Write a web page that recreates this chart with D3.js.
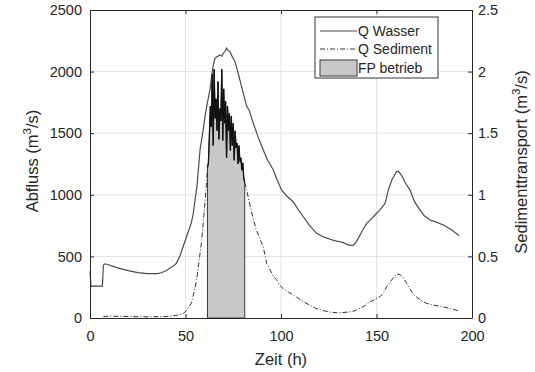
<!DOCTYPE html>
<html>
<head>
<meta charset="utf-8">
<script src="https://cdn.jsdelivr.net/npm/d3@7"></script>
<style>
  body { margin: 0; background: #fff; }
  text { font-family: "Liberation Sans", Arial, sans-serif; fill: #262626; }
</style>
</head>
<body>
<div id="chart"></div>
<script>
// Abfluss (Q Wasser), m3/s
const wasserT = [0, 0.5, 2, 4, 6.5, 7, 8, 10, 15, 20, 25, 30, 35, 37, 40, 43, 45, 47, 49, 51, 53, 54, 55, 56,
  57.6, 59, 60.2, 61.5, 62.8, 64, 64.6, 65.4, 66.5, 68, 69, 69.8, 70.7, 71.5, 72.3, 73.3, 74.5, 75.9, 77.6,
  79, 80.3, 82, 83.5, 85.5, 88, 90.7, 93, 96, 98, 100.3, 103, 106.4, 109, 111.7, 115, 118.7, 122, 125.7,
  128, 130.9, 133, 134.4, 136, 137.9, 139.5, 141.4, 143, 144.9, 147, 150.1, 152, 154.5, 156.2, 158, 160.5,
  161.5, 163, 165, 167.5, 170, 172.8, 175, 178, 181, 185, 189.4, 192.8, 193.5];
const wasserQ = [380, 255, 260, 258, 258, 430, 440, 430, 405, 385, 368, 360, 360, 365, 385, 415, 440, 500, 590,
  680, 770, 840, 960, 1070, 1364, 1500, 1634, 1750, 1851, 2000, 2054, 2108, 2120, 2135, 2125, 2149, 2165,
  2189, 2170, 2161, 2120, 2081, 1986, 1900, 1824, 1720, 1680, 1580, 1470, 1364, 1280, 1201, 1120, 1040,
  990, 944, 880, 822, 750, 687, 660, 639, 628, 619, 610, 598, 590, 592, 620, 674, 720, 768, 800, 850, 880,
  931, 1040, 1120, 1188, 1190, 1160, 1100, 1040, 940, 877, 830, 795, 780, 755, 714, 674, 670];

// Sedimenttransport (Q Sediment), m3/s
const sedT = [7, 10, 20, 30, 40, 45, 49, 51, 53, 55, 56, 57, 58.5, 60, 61, 61.5,
  62, 62.5, 63, 63.5, 64, 64.5, 65, 65.5, 66, 66.5, 67, 67.5, 68, 68.5, 69, 69.5, 70, 70.5, 71, 71.5,
  72, 72.5, 73, 73.5, 74, 74.5, 75, 75.5, 76, 76.5, 77, 77.5, 78, 78.5, 79, 79.5, 80, 80.5, 81,
  82, 83, 84, 85.5, 87, 89, 90.7, 92.5, 94, 96, 97.7, 99, 101, 104, 108, 112, 115, 118, 122, 126, 129,
  133, 136, 139, 141.4, 144, 146.6, 149, 151.8, 153.5, 155.3, 157, 159, 161, 162.5, 164, 165.5, 167,
  169, 171, 173.5, 176, 180, 185, 189, 193];
const sedQ = [0.012, 0.015, 0.012, 0.01, 0.012, 0.02, 0.038, 0.07, 0.12, 0.24, 0.33, 0.45, 0.63, 0.9, 1.1, 1.22,
  1.26, 1.48, 1.72, 1.55, 1.98, 1.40, 2.02, 1.62, 1.78, 1.52, 1.92, 1.45, 1.70, 1.60, 2.02, 1.44, 1.86, 1.58,
  1.76, 1.30, 1.72, 1.52, 1.66, 1.36, 1.64, 1.40, 1.58, 1.28, 1.52, 1.38, 1.42, 1.25, 1.40, 1.27, 1.30, 1.20,
  1.26, 1.14, 1.10,
  1.04, 0.97, 0.90, 0.80, 0.72, 0.64, 0.58, 0.44, 0.40, 0.34, 0.31, 0.27, 0.24, 0.21, 0.17, 0.13, 0.105, 0.08,
  0.06, 0.048, 0.043, 0.045, 0.05, 0.06, 0.078, 0.10, 0.13, 0.15, 0.173, 0.2, 0.254, 0.29, 0.33, 0.357, 0.35,
  0.33, 0.29, 0.25, 0.2, 0.17, 0.14, 0.12, 0.105, 0.09, 0.075, 0.058];

// FP betrieb (operating window), h
const fpStart = 61.5;
const fpEnd = 81;

const xTicks = [0, 50, 100, 150, 200];
const yLeftTicks = [0, 500, 1000, 1500, 2000, 2500];
const yRightTicks = [0, 0.5, 1, 1.5, 2, 2.5];
const legendLabels = ['Q Wasser', 'Q Sediment', 'FP betrieb'];

const width = 535;
const height = 372;
const margin = { top: 10, right: 63, bottom: 54, left: 90 };
const plotW = width - margin.left - margin.right;
const plotH = height - margin.top - margin.bottom;

const svg = d3.select('#chart').append('svg')
  .attr('width', width)
  .attr('height', height);

const x = d3.scaleLinear().domain([0, 200]).range([margin.left, margin.left + plotW]);
const yL = d3.scaleLinear().domain([0, 2500]).range([margin.top + plotH, margin.top]);
const yR = d3.scaleLinear().domain([0, 2.5]).range([margin.top + plotH, margin.top]);

// Grid
const grid = svg.append('g').attr('stroke', '#e3e3e3').attr('stroke-width', 1);
xTicks.slice(1, -1).forEach(t => {
  grid.append('line').attr('x1', x(t)).attr('x2', x(t))
    .attr('y1', margin.top).attr('y2', margin.top + plotH);
});
yLeftTicks.slice(1, -1).forEach(t => {
  grid.append('line').attr('x1', margin.left).attr('x2', margin.left + plotW)
    .attr('y1', yL(t)).attr('y2', yL(t));
});

// FP betrieb area under the sediment curve
const fpData = sedT.map((t, i) => ({ t, v: sedQ[i] })).filter(d => d.t >= fpStart && d.t <= fpEnd);
const fpArea = d3.area().x(d => x(d.t)).y0(yR(0)).y1(d => yR(d.v));
svg.append('path')
  .datum(fpData)
  .attr('d', fpArea)
  .attr('fill', '#c8c8c8')
  .attr('stroke', '#3a3a3a')
  .attr('stroke-width', 1);

// Q Wasser line
const wasser = wasserT.map((t, i) => ({ t, v: wasserQ[i] }));
svg.append('path')
  .datum(wasser)
  .attr('d', d3.line().x(d => x(d.t)).y(d => yL(d.v)))
  .attr('fill', 'none')
  .attr('stroke', '#4a4a4a')
  .attr('stroke-width', 1.2);

// Q Sediment line (dash-dot outside, solid spikes inside the FP window)
const sed = sedT.map((t, i) => ({ t, v: sedQ[i] }));
const sedLine = d3.line().x(d => x(d.t)).y(d => yR(d.v));
svg.append('path')
  .datum(sed.filter(d => d.t <= fpStart))
  .attr('d', sedLine)
  .attr('fill', 'none')
  .attr('stroke', '#333')
  .attr('stroke-width', 1)
  .attr('stroke-dasharray', '5,2,1,2');
svg.append('path')
  .datum(sed.filter(d => d.t >= fpEnd))
  .attr('d', sedLine)
  .attr('fill', 'none')
  .attr('stroke', '#333')
  .attr('stroke-width', 1)
  .attr('stroke-dasharray', '5,2,1,2');
svg.append('path')
  .datum(fpData)
  .attr('d', sedLine)
  .attr('fill', 'none')
  .attr('stroke', '#111')
  .attr('stroke-width', 1.3);

// Axes
const axisColor = '#262626';
const fontSize = '14.5px';

const xAxis = svg.append('g')
  .attr('transform', `translate(0,${margin.top + plotH})`)
  .call(d3.axisBottom(x).tickValues(xTicks).tickSizeInner(-4).tickSizeOuter(0).tickPadding(13));
const xAxisTop = svg.append('g')
  .attr('transform', `translate(0,${margin.top})`)
  .call(d3.axisTop(x).tickValues(xTicks).tickSizeInner(-4).tickSizeOuter(0).tickFormat(''));
const yAxisL = svg.append('g')
  .attr('transform', `translate(${margin.left},0)`)
  .call(d3.axisLeft(yL).tickValues(yLeftTicks).tickFormat(d3.format('d')).tickSizeInner(-4).tickSizeOuter(0).tickPadding(8));
const yAxisR = svg.append('g')
  .attr('transform', `translate(${margin.left + plotW},0)`)
  .call(d3.axisRight(yR).tickValues(yRightTicks).tickFormat(d3.format('')).tickSizeInner(-4).tickSizeOuter(0).tickPadding(6));

[xAxis, xAxisTop, yAxisL, yAxisR].forEach(g => {
  g.select('.domain').attr('stroke', axisColor);
  g.selectAll('.tick line').attr('stroke', axisColor);
  g.selectAll('.tick text')
    .attr('fill', axisColor)
    .style('font-size', fontSize)
    .style('font-family', '"Liberation Sans", Arial, sans-serif');
});

// Axis labels
const labelSize = '16.5px';
svg.append('text')
  .attr('x', x(100)).attr('y', 365)
  .attr('text-anchor', 'middle')
  .style('font-size', labelSize)
  .text('Zeit (h)');

const leftLabel = svg.append('text')
  .attr('transform', `translate(38,161) rotate(-90)`)
  .attr('text-anchor', 'middle')
  .style('font-size', labelSize);
leftLabel.append('tspan').text('Abfluss (m');
leftLabel.append('tspan').attr('dy', -7).style('font-size', '11.5px').text('3');
leftLabel.append('tspan').attr('dy', 7).text('/s)');

const rightLabel = svg.append('text')
  .attr('transform', `translate(527,162) rotate(-90)`)
  .attr('text-anchor', 'middle')
  .style('font-size', labelSize);
rightLabel.append('tspan').text('Sedimenttransport (m');
rightLabel.append('tspan').attr('dy', -7).style('font-size', '11.5px').text('3');
rightLabel.append('tspan').attr('dy', 7).text('/s)');

// Legend
const legend = svg.append('g').attr('transform', 'translate(315,17)');
legend.append('rect')
  .attr('width', 123).attr('height', 61)
  .attr('fill', '#fff')
  .attr('stroke', '#333')
  .attr('stroke-width', 1);
const rowY = [14, 32, 51];
legend.append('line').attr('x1', 5).attr('x2', 42).attr('y1', rowY[0]).attr('y2', rowY[0])
  .attr('stroke', '#4a4a4a').attr('stroke-width', 1.2);
legend.append('line').attr('x1', 5).attr('x2', 42).attr('y1', rowY[1]).attr('y2', rowY[1])
  .attr('stroke', '#333').attr('stroke-width', 1).attr('stroke-dasharray', '5,2,1,2');
legend.append('rect').attr('x', 5).attr('y', rowY[2] - 8).attr('width', 37).attr('height', 16)
  .attr('fill', '#c8c8c8').attr('stroke', '#3a3a3a').attr('stroke-width', 1);
legendLabels.forEach((lab, i) => {
  legend.append('text')
    .attr('x', 43).attr('y', rowY[i] + 5)
    .style('font-size', '14px')
    .text(lab);
});
</script>
</body>
</html>
